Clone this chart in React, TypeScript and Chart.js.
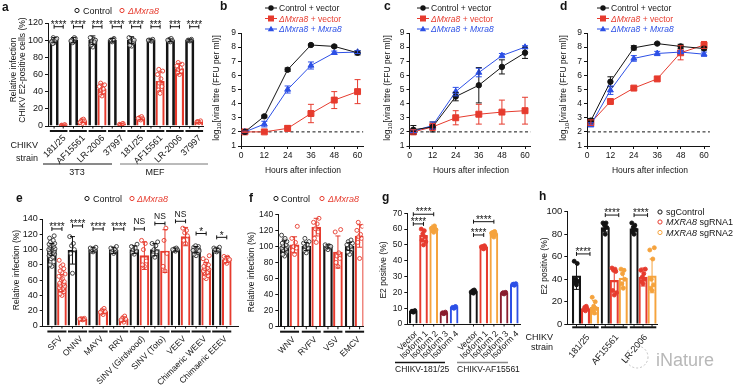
import React, { useEffect, useRef } from "react";
import { Chart, registerables } from "chart.js";

Chart.register(...registerables);

const FONT = '"Liberation Sans", Arial, Helvetica, sans-serif';
const INK = "#141414";
const RED = "#e63b2e";
const ORANGE = "#f5a33d";
const MAROON = "#8a1d2e";
const BLUE = "#2d50e6";

// ---------------- panel a ----------------
const aStrains = ["181/25", "AF15561", "LR-2006", "37997", "181/25", "AF15561", "LR-2006", "37997"];
const aCells = ["3T3", "MEF"];
const aCtrlMean = [100, 100, 100, 100, 100, 100, 100, 100];
const aCtrlSd = [3, 3, 5, 2, 4, 1, 1.5, 1];
const aKoMean = [1, 6, 43, 2, 9, 52, 67, 5];
const aKoSd = [0.5, 2, 6, 1, 1.5, 11, 6, 1];
const aSig = ["****", "****", "***", "****", "****", "***", "***", "****"];
const aCtrlPts = [
  [97, 99, 101, 103, 100, 98, 102, 96],
  [98, 100, 102, 97, 103, 99],
  [92, 94, 97, 99, 101, 103, 100, 95, 98],
  [98, 100, 102, 99, 101],
  [93, 94, 97, 99, 101, 103, 100],
  [99, 100, 101, 100, 99, 100],
  [98, 99, 100, 101, 102, 100],
  [99, 100, 101, 100, 100],
];
const aKoPts = [
  [0.5, 1, 1.5, 0.8, 1.2],
  [3, 5, 6, 7, 8, 4],
  [35, 37, 40, 42, 44, 46, 48, 50, 43],
  [1, 2, 3, 1.5, 2.5],
  [7, 8, 9, 10, 11, 9],
  [38, 42, 46, 50, 55, 60, 64, 66],
  [60, 62, 64, 66, 68, 70, 72, 74],
  [4, 5, 6, 5],
];

// ---------------- panels b, c, d ----------------
const hours = [2, 12, 24, 36, 48, 60];
const hourTicks = [0, 12, 24, 36, 48, 60];
const titreTicks = [1, 2, 3, 4, 5, 6, 7, 8, 9];
const detectionLimit = 2;
const bCtrl = [2.0, 3.1, 6.4, 8.15, 8.05, 7.6];
const bCtrlErr = [0.05, 0.08, 0.12, 0.05, 0.08, 0.15];
const bKoVec = [2.0, 2.0, 2.25, 3.3, 4.25, 4.85];
const bKoVecErr = [0.05, 0.05, 0.2, 0.65, 0.6, 0.85];
const bKoMx = [2.0, 2.55, 5.0, 6.7, 7.6, 7.65];
const bKoMxErr = [0.05, 0.2, 0.25, 0.25, 0.12, 0.1];
const cCtrl = [2.15, 2.35, 4.5, 5.3, 6.6, 7.6];
const cCtrlErr = [0.3, 0.35, 0.3, 1.25, 0.5, 0.4];
const cKoVec = [2.0, 2.35, 3.0, 3.25, 3.4, 3.5];
const cKoVecErr = [0.15, 0.25, 0.5, 0.7, 0.85, 0.95];
const cKoMx = [2.05, 2.45, 4.85, 6.2, 7.4, 8.0];
const cKoMxErr = [0.1, 0.25, 0.3, 0.3, 0.15, 0.1];
const dCtrl = [2.8, 5.55, 7.95, 8.25, 8.05, 7.9];
const dCtrlErr = [0.15, 0.35, 0.15, 0.05, 0.15, 0.1];
const dKoVec = [2.65, 4.15, 5.1, 5.75, 7.6, 8.15];
const dKoVecErr = [0.2, 0.1, 0.05, 0.15, 0.5, 0.25];
const dKoMx = [2.5, 4.95, 7.2, 7.55, 7.65, 7.5];
const dKoMxErr = [0.15, 0.3, 0.2, 0.15, 0.1, 0.15];

// ---------------- panel e ----------------
const eViruses = ["SFV", "ONNV", "MAYV", "RRV", "SINV (Girdwood)", "SINV (Toto)", "VEEV", "Chimaeric WEEV", "Chimaeric EEEV"];
const eCtrlMean = [100, 99, 100, 99, 100, 100, 100, 100, 100];
const eCtrlSd = [8, 18, 3, 4, 5, 8, 2, 4, 2];
const eKoMean = [56, 9, 19, 9, 92, 98, 117, 75, 87];
const eKoSd = [11, 1.5, 3, 3, 18, 28, 12, 8, 4];
const eSig = ["****", "****", "****", "****", "NS", "NS", "NS", "*", "*"];
const eSigY = [127, 131, 127, 127, 127, 134, 137, 121, 116];
const eCtrlPts = [
  [78, 80, 84, 88, 90, 92, 94, 95, 96, 97, 98, 99, 100, 100, 101, 102, 103, 104, 105, 106, 107, 108, 110, 112, 115, 118],
  [69, 95, 100, 105, 108, 117],
  [97, 98, 99, 100, 101, 102, 103],
  [95, 97, 99, 100, 101, 102, 104],
  [94, 96, 98, 100, 102, 104, 107],
  [90, 93, 97, 100, 105, 108, 110],
  [98, 99, 100, 101, 102, 100],
  [92, 94, 96, 97, 98, 99, 100, 101, 102, 103, 104, 105, 100, 99, 98],
  [97, 98, 99, 100, 101, 102, 103, 100, 99],
];
const eKoPts = [
  [40, 42, 45, 47, 49, 50, 52, 53, 55, 56, 58, 60, 62, 65, 68, 70, 72, 75, 78, 80, 86],
  [8, 9, 10, 9.5, 8.5, 9],
  [15, 17, 19, 21, 23, 18],
  [5, 7, 9, 11, 13, 8],
  [78, 80, 85, 100, 108, 112],
  [72, 78, 95, 112, 128],
  [108, 112, 118, 122, 125, 128],
  [62, 64, 66, 68, 70, 72, 74, 75, 76, 78, 80, 82, 85, 88, 92],
  [82, 84, 86, 88, 90, 91, 87, 85],
];

// ---------------- panel f ----------------
const fViruses = ["WNV", "RVFV", "VSV", "EMCV"];
const fCtrlMean = [100, 100, 100, 100];
const fCtrlSd = [7, 5, 2, 5];
const fKoMean = [102, 124, 93, 113];
const fKoSd = [10, 11, 20, 14];
const fCtrlPts = [
  [88, 90, 93, 95, 97, 98, 100, 101, 102, 104, 106, 108, 110, 114],
  [92, 95, 98, 100, 102, 104, 106, 110],
  [96, 98, 99, 100, 101, 102, 100],
  [90, 93, 96, 98, 100, 102, 104, 106, 108],
];
const fKoPts = [
  [90, 95, 98, 100, 105, 110, 125],
  [105, 110, 118, 122, 128, 130, 135],
  [75, 80, 85, 88, 92, 118, 121],
  [85, 105, 110, 112, 115, 120, 125, 130],
];
const pctTicks = [0, 20, 40, 60, 80, 100, 120, 140];

// ---------------- panel g ----------------
const gIsoforms = ["Vector", "Isoform 1", "Isoform 2", "Isoform 3", "Isoform 4"];
const gStrains = ["CHIKV-181/25", "CHIKV-AF15561"];
const gColors = [INK, RED, ORANGE, MAROON, BLUE];
const gMean = [
  [8, 56, 60.5, 7, 10.5],
  [20.5, 48.5, 57, 19.5, 25],
];
const gSd = [
  [0.5, 3.5, 2, 0.5, 0.5],
  [0.8, 0.8, 1.5, 0.8, 0.8],
];
const gPts = [
  [[7.5, 8, 8.5, 8, 7.8], [50, 53, 55, 57, 59, 60, 52], [58, 59, 60, 61, 62, 60.5, 59.5], [6.5, 7, 7.5, 7], [10, 10.5, 11, 10.2, 10.8]],
  [[19.5, 20, 20.5, 21, 21.5, 20.2], [47.5, 48, 48.5, 49, 49.5, 48.8], [55, 56, 57, 58, 58.5, 57.5], [19, 19.5, 20, 19.8], [24.5, 25, 25.5, 25.2]],
];
const gSigTo = [1, 2];
const gSigY = [
  [63.3, 69.4],
  [56.3, 64.7],
];
const gTicks = [0, 10, 20, 30, 40, 50, 60, 70];

// ---------------- panel h ----------------
const hStrains = ["181/25", "AF15561", "LR-2006"];
const hGuides = ["sgControl", "MXRA8 sgRNA1", "MXRA8 sgRNA2"];
const hColors = [INK, RED, ORANGE];
const hMean = [
  [43, 86, 85],
  [14, 39, 42],
  [15, 41, 43],
];
const hSd = [
  [12, 4, 2],
  [2, 10, 8],
  [6, 8, 15],
];
const hPts = [
  [[35, 37, 38, 40, 54, 56], [80, 84, 86, 88, 90, 90], [80, 82, 84, 86, 88, 90]],
  [[12, 13, 14, 15, 16], [26, 30, 47, 48, 49, 50, 28], [36, 38, 40, 42, 45, 48, 49]],
  [[10, 12, 14, 16, 20, 24], [32, 36, 40, 45, 48, 49], [30, 32, 35, 40, 58, 66, 68]],
];
const hSig = ["****", "****", "****"];
const hSigY = [62.5, 97, 97];
const hTicks = [0, 20, 40, 60, 80, 100];

// ================= helpers =================
type Box = { left: number; top: number; w: number; h: number };
type Area = { x0: number; x1: number; y0: number; y1: number };
type Seg = { t: string; i?: boolean; sub?: boolean; b?: boolean };

function fnt(size: number, bold = false, italic = false) {
  return `${italic ? "italic " : ""}${bold ? "bold " : ""}${size}px ${FONT}`;
}

function rich(ctx: any, segs: Seg[], x: number, y: number, size: number, color: string, align = "left", rot = 0) {
  ctx.save();
  ctx.translate(x, y);
  if (rot) ctx.rotate(rot);
  ctx.fillStyle = color;
  ctx.textBaseline = "alphabetic";
  ctx.textAlign = "left";
  const f = (s: Seg) => fnt(s.sub ? size * 0.72 : size, !!s.b, !!s.i);
  const ws = segs.map((s) => {
    ctx.font = f(s);
    return ctx.measureText(s.t).width;
  });
  const tot = ws.reduce((a, b) => a + b, 0);
  let cx = align === "left" ? 0 : align === "center" ? -tot / 2 : -tot;
  segs.forEach((s, k) => {
    ctx.font = f(s);
    ctx.fillText(s.t, cx, s.sub ? size * 0.3 : 0);
    cx += ws[k];
  });
  ctx.restore();
}

function text(ctx: any, s: string, x: number, y: number, size: number, o: any = {}) {
  rich(ctx, [{ t: s, i: o.italic, b: o.bold }], x, y, size, o.color || INK, o.align || "left", o.rot || 0);
}

function seg(ctx: any, x1: number, y1: number, x2: number, y2: number, color: string, w: number) {
  ctx.save();
  ctx.strokeStyle = color;
  ctx.lineWidth = w;
  ctx.beginPath();
  ctx.moveTo(x1, y1);
  ctx.lineTo(x2, y2);
  ctx.stroke();
  ctx.restore();
}

function openCircle(ctx: any, x: number, y: number, color: string, fill = false) {
  ctx.save();
  ctx.strokeStyle = color;
  ctx.fillStyle = color;
  ctx.lineWidth = 1;
  ctx.beginPath();
  ctx.arc(x, y, 2.1, 0, Math.PI * 2);
  if (fill) ctx.fill();
  ctx.stroke();
  ctx.restore();
}

function marker(ctx: any, style: string, x: number, y: number, color: string) {
  ctx.save();
  ctx.fillStyle = color;
  if (style === "circle") {
    ctx.beginPath();
    ctx.arc(x, y, 2.7, 0, Math.PI * 2);
    ctx.fill();
  } else if (style === "rect") {
    ctx.fillRect(x - 3, y - 3, 6, 6);
  } else {
    ctx.beginPath();
    ctx.moveTo(x, y - 3.2);
    ctx.lineTo(x + 3.2, y + 2.3);
    ctx.lineTo(x - 3.2, y + 2.3);
    ctx.closePath();
    ctx.fill();
  }
  ctx.restore();
}

function bracket(ctx: any, xa: number, xb: number, y: number, label: string) {
  ctx.save();
  ctx.strokeStyle = INK;
  ctx.lineWidth = 1;
  ctx.beginPath();
  ctx.moveTo(xa, y);
  ctx.lineTo(xb, y);
  ctx.moveTo(xa, y - 2);
  ctx.lineTo(xa, y + 2);
  ctx.moveTo(xb, y - 2);
  ctx.lineTo(xb, y + 2);
  ctx.stroke();
  ctx.restore();
  const stars = label.indexOf("*") >= 0;
  text(ctx, label, (xa + xb) / 2, stars ? y + 1.2 : y - 4.5, stars ? 10 : 8.5, { align: "center" });
}

function barTicks(ctx: any, X: (v: number) => number, xs: number[], y1: number) {
  xs.forEach((x) => seg(ctx, X(x), y1, X(x), y1 + 2.5, INK, 1));
}

function groupLines(ctx: any, X: (v: number) => number, groups: number[][], half: number, y: number) {
  groups.forEach((g) => seg(ctx, X(g[0]) - half, y, X(g[1]) + half, y, INK, 2));
}

const errorPlugin = {
  id: "errs",
  afterDatasetsDraw(chart: any) {
    const ctx = chart.ctx;
    chart.data.datasets.forEach((d: any) => {
      if (!d.errors) return;
      d.data.forEach((p: any, i: number) => {
        const e = d.errors[i];
        if (!e) return;
        const x = chart.scales.x.getPixelForValue(p.x);
        const yT = chart.scales.y.getPixelForValue(p.y + e);
        const yB = chart.scales.y.getPixelForValue(p.y - e);
        const c = d.cap || 2.5;
        ctx.save();
        ctx.strokeStyle = d.errColor;
        ctx.lineWidth = 1;
        ctx.beginPath();
        ctx.moveTo(x, yT);
        ctx.lineTo(x, yB);
        ctx.moveTo(x - c, yT);
        ctx.lineTo(x + c, yT);
        ctx.moveTo(x - c, yB);
        ctx.lineTo(x + c, yB);
        ctx.stroke();
        ctx.restore();
      });
    });
  },
};

function yScale(box: Box, area: Area, min: number, max: number, vals: number[], size = 8.5) {
  return {
    type: "linear",
    min,
    max,
    bounds: "data",
    position: "left",
    afterBuildTicks: (s: any) => {
      s.ticks = vals.map((v) => ({ value: v }));
    },
    afterFit: (s: any) => {
      s.width = area.x0 - box.left;
      s.paddingTop = 0;
      s.paddingBottom = 0;
    },
    grid: { display: true, drawOnChartArea: false, drawTicks: true, tickLength: 3, color: INK, lineWidth: 1 },
    border: { display: true, color: INK, width: 1 },
    ticks: { font: { family: FONT, size }, color: INK, padding: 2, autoSkip: false },
  };
}

function xScale(box: Box, area: Area, min: number, max: number, vals: number[], labels: string[] | null, rot: number, pad: number, drawTicks: boolean, size = 8.5) {
  return {
    type: "linear",
    min,
    max,
    bounds: "data",
    offset: false,
    position: "bottom",
    afterBuildTicks: (s: any) => {
      s.ticks = vals.map((v) => ({ value: v }));
    },
    afterFit: (s: any) => {
      s.height = box.top + box.h - area.y1;
      s.paddingLeft = 0;
      s.paddingRight = 0;
    },
    grid: { display: true, drawOnChartArea: false, drawTicks, tickLength: 3, color: INK, lineWidth: 1, offset: false },
    border: { display: true, color: INK, width: 1 },
    ticks: {
      font: { family: FONT, size },
      color: INK,
      padding: pad,
      autoSkip: false,
      minRotation: rot,
      maxRotation: rot,
      callback: (v: any, i: number) => (labels ? labels[i] : String(v)),
    },
  };
}

function makeConfig(type: string, box: Box, area: Area, datasets: any[], xs: any, ys: any, decor: (ctx: any, X: (v: number) => number, Y: (v: number) => number) => void) {
  return {
    type,
    data: { datasets },
    options: {
      animation: false,
      responsive: false,
      events: [],
      layout: {
        padding: { top: area.y0 - box.top, right: box.left + box.w - area.x1, bottom: 0, left: 0 },
        autoPadding: false,
      },
      plugins: { legend: { display: false }, tooltip: { enabled: false } },
      scales: { x: xs, y: ys },
    },
    plugins: [
      errorPlugin,
      {
        id: "decor",
        afterDraw(chart: any) {
          const ctx = chart.ctx;
          const X = (v: number) => chart.scales.x.getPixelForValue(v) + box.left;
          const Y = (v: number) => chart.scales.y.getPixelForValue(v) + box.top;
          ctx.save();
          ctx.translate(-box.left, -box.top);
          decor(ctx, X, Y);
          ctx.restore();
        },
      },
    ],
  };
}

const JIT = [0, -0.6, 0.6, -0.3, 0.3, -0.9, 0.9, -0.45, 0.45, -0.75, 0.75, -0.15, 0.15, -1, 1];

function barSeries(xs: number[], means: number[], sds: number[], pts: number[][], o: any) {
  return [
    {
      type: "scatter",
      order: 1,
      data: pts.flatMap((arr, i) => arr.map((v, k) => ({ x: xs[i] + JIT[k % JIT.length] * o.jw, y: v }))),
      pointRadius: o.r || 2,
      pointBackgroundColor: o.ptFill,
      pointBorderColor: o.ptStroke,
      pointBorderWidth: 0.9,
      showLine: false,
    },
    {
      type: "bar",
      order: 2,
      data: xs.map((x, i) => ({ x, y: means[i] })),
      backgroundColor: "rgba(255,255,255,0)",
      borderColor: o.bar,
      borderWidth: o.bw,
      barThickness: o.thick,
      grouped: false,
      errors: sds,
      errColor: o.err,
      cap: o.cap || 2.5,
    },
  ];
}

function lineSeries(vals: number[], errs: number[], color: string, style: string, radius: number, order: number) {
  return {
    type: "line",
    order,
    data: hours.map((h, i) => ({ x: h, y: vals[i] })),
    borderColor: color,
    backgroundColor: color,
    borderWidth: 1,
    pointStyle: style,
    pointRadius: radius,
    pointBackgroundColor: color,
    pointBorderColor: color,
    pointBorderWidth: 1,
    tension: 0,
    errors: errs,
    errColor: color,
    cap: 3,
  };
}

const legendLine: Seg[][] = [
  [{ t: "Control + vector" }],
  [{ t: "Δ", i: true }, { t: "Mxra8", i: true }, { t: " + vector" }],
  [{ t: "Δ", i: true }, { t: "Mxra8", i: true }, { t: " + " }, { t: "Mxra8", i: true }],
];
const legendColors = [INK, RED, BLUE];
const legendMarkers = ["circle", "rect", "triangle"];
const titreTitle: Seg[] = [{ t: "log" }, { t: "10", sub: true }, { t: "[viral titre (FFU per ml)]" }];

// ================= panels =================
const boxA: Box = { left: 0, top: 0, w: 212, h: 180 };
const areaA: Area = { x0: 48, x1: 203, y0: 23, y1: 126 };
function buildA() {
  const off = 0.235;
  const cx = aStrains.map((_, i) => i - off);
  const kx = aStrains.map((_, i) => i + off);
  const ds = [
    ...barSeries(cx, aCtrlMean, aCtrlSd, aCtrlPts, { bar: INK, bw: 2, err: INK, ptStroke: "#333", ptFill: "rgba(255,255,255,0.7)", thick: 8.5, jw: 0.15 }),
    ...barSeries(kx, aKoMean, aKoSd, aKoPts, { bar: RED, bw: 1.5, err: RED, ptStroke: RED, ptFill: "rgba(255,255,255,0.7)", thick: 8.5, jw: 0.15 }),
  ];
  return makeConfig(
    "bar",
    boxA,
    areaA,
    ds,
    xScale(boxA, areaA, -0.55, 7.45, aStrains.map((_, i) => i + 0.3), aStrains, 45, 7, false, 9),
    yScale(boxA, areaA, 0, 120, [0, 20, 40, 60, 80, 100, 120], 9),
    (ctx, X, Y) => {
      text(ctx, "a", 2, 11, 12, { bold: true });
      openCircle(ctx, 77, 10.5, INK);
      text(ctx, "Control", 83, 14, 9);
      openCircle(ctx, 122, 10.5, RED);
      rich(ctx, [{ t: "Δ", i: true }, { t: "Mxra8", i: true }], 128, 14, 9, RED);
      text(ctx, "Relative infection", 16, 70, 8.5, { align: "center", rot: -Math.PI / 2 });
      text(ctx, "CHIKV E2-positive cells (%)", 25, 70, 8.5, { align: "center", rot: -Math.PI / 2 });
      barTicks(ctx, X, [...cx, ...kx], areaA.y1);
      groupLines(ctx, X, aStrains.map((_, i) => [i - off, i + off]), 4.25, areaA.y1 + 5);
      aSig.forEach((s, i) => bracket(ctx, X(i - off), X(i + off), Y(115.7), s));
      text(ctx, "CHIKV", 38, 148, 9, { align: "right" });
      text(ctx, "strain", 38, 161, 9, { align: "right" });
      seg(ctx, 43, 164, 112, 164, INK, 1);
      text(ctx, aCells[0], 77, 175, 9, { align: "center" });
      seg(ctx, 120, 164, 208, 164, "#777", 1);
      text(ctx, aCells[1], 155, 175, 9, { align: "center" });
    }
  );
}

function buildLine(box: Box, area: Area, letter: string, letterX: number, ctrl: number[], ctrlE: number[], kv: number[], kvE: number[], km: number[], kmE: number[], legX: number, yTitleX: number, xTitleX: number) {
  const ds = [
    lineSeries(ctrl, ctrlE, INK, "circle", 2.7, 1),
    lineSeries(km, kmE, BLUE, "triangle", 3.4, 2),
    lineSeries(kv, kvE, RED, "rect", 4.2, 3),
    {
      type: "line",
      order: 5,
      data: [
        { x: 0, y: detectionLimit },
        { x: 63, y: detectionLimit },
      ],
      borderColor: INK,
      borderWidth: 1,
      borderDash: [3, 2.5],
      pointRadius: 0,
    },
  ];
  return makeConfig(
    "line",
    box,
    area,
    ds,
    xScale(box, area, 0, 63, hourTicks, null, 0, 2, true, 8.5),
    yScale(box, area, 1, 9, titreTicks, 8.5),
    (ctx) => {
      text(ctx, letter, letterX, 10, 12, { bold: true });
      [8, 18.5, 29].forEach((y, k) => {
        seg(ctx, legX, y, legX + 12, y, legendColors[k], 1);
        marker(ctx, legendMarkers[k], legX + 6, y, legendColors[k]);
        rich(ctx, legendLine[k], legX + 14, y + 3, 8.5, legendColors[k]);
      });
      rich(ctx, titreTitle, yTitleX, 88, 8.5, INK, "center", -Math.PI / 2);
      text(ctx, "Hours after infection", xTitleX, 173, 8.5, { align: "center" });
    }
  );
}

const boxB: Box = { left: 205, top: 0, w: 165, h: 180 };
const areaB: Area = { x0: 241, x1: 363.4, y0: 33, y1: 146 };
const boxC: Box = { left: 372, top: 0, w: 165, h: 180 };
const areaC: Area = { x0: 409.5, x1: 530.8, y0: 33, y1: 146 };
const boxD: Box = { left: 540, top: 0, w: 200, h: 180 };
const areaD: Area = { x0: 587, x1: 709.9, y0: 33, y1: 146 };
const buildB = () => buildLine(boxB, areaB, "b", 220, bCtrl, bCtrlErr, bKoVec, bKoVecErr, bKoMx, bKoMxErr, 265, 218.5, 303);
const buildC = () => buildLine(boxC, areaC, "c", 384, cCtrl, cCtrlErr, cKoVec, cKoVecErr, cKoMx, cKoMxErr, 417, 389.5, 471);
const buildD = () => buildLine(boxD, areaD, "d", 560, dCtrl, dCtrlErr, dKoVec, dKoVecErr, dKoMx, dKoMxErr, 597, 566, 650);

const boxE: Box = { left: 0, top: 180, w: 245, h: 209 };
const areaE: Area = { x0: 42.7, x1: 238, y0: 219, y1: 326 };
function buildE() {
  const off = 0.245;
  const cx = eViruses.map((_, i) => i - off);
  const kx = eViruses.map((_, i) => i + off);
  const ds = [
    ...barSeries(cx, eCtrlMean, eCtrlSd, eCtrlPts, { bar: INK, bw: 1.6, err: INK, ptStroke: "#333", ptFill: "rgba(255,255,255,0.7)", thick: 9, jw: 0.15 }),
    ...barSeries(kx, eKoMean, eKoSd, eKoPts, { bar: RED, bw: 1.4, err: RED, ptStroke: RED, ptFill: "rgba(255,255,255,0.7)", thick: 9, jw: 0.15 }),
  ];
  return makeConfig(
    "bar",
    boxE,
    areaE,
    ds,
    xScale(boxE, areaE, -0.69, 8.79, eViruses.map((_, i) => i + 0.2), eViruses, 45, 8, false),
    yScale(boxE, areaE, 0, 140, pctTicks, 9),
    (ctx, X, Y) => {
      text(ctx, "e", 16, 202, 12, { bold: true });
      openCircle(ctx, 87, 198.5, INK);
      text(ctx, "Control", 93, 202, 9);
      openCircle(ctx, 132, 198.5, RED);
      rich(ctx, [{ t: "Δ", i: true }, { t: "Mxra8", i: true }], 137, 202, 9, RED);
      text(ctx, "Relative infection (%)", 18.5, 270, 8.5, { align: "center", rot: -Math.PI / 2 });
      barTicks(ctx, X, [...cx, ...kx], areaE.y1);
      groupLines(ctx, X, eViruses.map((_, i) => [i - off, i + off]), 4.5, areaE.y1 + 5.5);
      eSig.forEach((s, i) => bracket(ctx, X(i - off), X(i + off), Y(eSigY[i]), s));
    }
  );
}

const boxF: Box = { left: 245, top: 180, w: 130, h: 209 };
const areaF: Area = { x0: 278.3, x1: 363.3, y0: 214.3, y1: 326.7 };
function buildF() {
  const off = 0.23;
  const cx = fViruses.map((_, i) => i - off);
  const kx = fViruses.map((_, i) => i + off);
  const ds = [
    ...barSeries(cx, fCtrlMean, fCtrlSd, fCtrlPts, { bar: INK, bw: 1.6, err: INK, ptStroke: "#333", ptFill: "rgba(255,255,255,0.7)", thick: 9, jw: 0.14 }),
    ...barSeries(kx, fKoMean, fKoSd, fKoPts, { bar: RED, bw: 1.4, err: RED, ptStroke: RED, ptFill: "rgba(255,255,255,0.7)", thick: 9, jw: 0.14 }),
  ];
  return makeConfig(
    "bar",
    boxF,
    areaF,
    ds,
    xScale(boxF, areaF, -0.52, 3.4, fViruses.map((_, i) => i + 0.2), fViruses, 45, 8, false),
    yScale(boxF, areaF, 0, 140, pctTicks, 8.5),
    (ctx, X) => {
      text(ctx, "f", 249, 202, 12, { bold: true });
      openCircle(ctx, 276, 198.5, INK);
      text(ctx, "Control", 281, 202, 9);
      openCircle(ctx, 322, 198.5, RED);
      rich(ctx, [{ t: "Δ", i: true }, { t: "Mxra8", i: true }], 328, 202, 9, RED);
      text(ctx, "Relative infection (%)", 254, 272, 8.5, { align: "center", rot: -Math.PI / 2 });
      barTicks(ctx, X, [...cx, ...kx], areaF.y1);
      groupLines(ctx, X, fViruses.map((_, i) => [i - off, i + off]), 4.5, areaF.y1 + 5);
    }
  );
}

const boxG: Box = { left: 375, top: 180, w: 160, h: 209 };
const areaG: Area = { x0: 407.3, x1: 520, y0: 213.3, y1: 324 };
function buildG() {
  const start = [0, 5.9];
  const ds: any[] = [];
  gIsoforms.forEach((_, k) => {
    const xs = start.map((s) => s + k);
    ds.push(
      ...barSeries(
        xs,
        gMean.map((m) => m[k]),
        gSd.map((m) => m[k]),
        gPts.map((p) => p[k]),
        { bar: gColors[k], bw: 1.4, err: gColors[k], ptStroke: gColors[k], ptFill: gColors[k], thick: 8, jw: 0.25 }
      )
    );
  });
  const allX = start.flatMap((s) => gIsoforms.map((_, k) => s + k));
  const labels = start.flatMap(() => gIsoforms);
  return makeConfig(
    "bar",
    boxG,
    areaG,
    ds,
    xScale(boxG, areaG, -0.59, 10.46, allX.map((x) => x + 0.3), labels, 45, 5, false, 8.5),
    yScale(boxG, areaG, 0, 70, gTicks, 8.5),
    (ctx, X, Y) => {
      text(ctx, "g", 382, 201, 12, { bold: true });
      text(ctx, "E2 positive (%)", 386, 270, 8.5, { align: "center", rot: -Math.PI / 2 });
      barTicks(ctx, X, allX, areaG.y1);
      start.forEach((s, gi) => {
        gSigTo.forEach((to, j) => bracket(ctx, X(s), X(s + to), Y(gSigY[gi][j]), "****"));
      });
      seg(ctx, 395, 362.5, 445, 362.5, INK, 1.3);
      text(ctx, gStrains[0], 395, 371.5, 8.5);
      seg(ctx, 457, 362.5, 508, 362.5, "#888", 1.3);
      text(ctx, gStrains[1], 457, 371.5, 8.5);
    }
  );
}

const boxH: Box = { left: 520, top: 180, w: 220, h: 209 };
const areaH: Area = { x0: 567.3, x1: 657, y0: 211.7, y1: 324.3 };
function buildH() {
  const gs = 3.2;
  const ds: any[] = [];
  hGuides.forEach((_, k) => {
    const xs = hStrains.map((_, g) => g * gs + k);
    ds.push(...barSeries(xs, hMean[k], hSd[k], hPts[k], { bar: hColors[k], bw: 1.5, err: hColors[k], ptStroke: hColors[k], ptFill: hColors[k], thick: 8.5, jw: 0.28 }));
  });
  const allX = hStrains.flatMap((_, g) => hGuides.map((_, k) => g * gs + k));
  return makeConfig(
    "bar",
    boxH,
    areaH,
    ds,
    xScale(boxH, areaH, -1.02, 8.95, hStrains.map((_, g) => g * gs + 1.3), hStrains, 50, 8, false, 9),
    yScale(boxH, areaH, 0, 100, hTicks, 9.5),
    (ctx, X, Y) => {
      text(ctx, "h", 539, 200, 12, { bold: true });
      text(ctx, "E2 positive (%)", 546.5, 266, 8.5, { align: "center", rot: -Math.PI / 2 });
      barTicks(ctx, X, allX, areaH.y1);
      groupLines(ctx, X, hStrains.map((_, g) => [g * gs, g * gs + 2]), 4.25, areaH.y1 + 3);
      hSig.forEach((s, g) => bracket(ctx, X(g * gs), X(g * gs + 1.5), Y(hSigY[g]), s));
      text(ctx, "CHIKV", 553, 340, 9, { align: "right" });
      text(ctx, "strain", 553, 350, 9, { align: "right" });
      [212, 222, 232.5].forEach((y, k) => {
        openCircle(ctx, 660, y, hColors[k]);
        const segs: Seg[] = k === 0 ? [{ t: hGuides[0] }] : [{ t: "MXRA8", i: true }, { t: hGuides[k].replace("MXRA8", "") }];
        rich(ctx, segs, 666, y + 3, 9, INK);
      });
      ctx.save();
      ctx.strokeStyle = "rgba(150,150,150,0.55)";
      ctx.lineWidth = 1;
      ctx.setLineDash([2, 2]);
      ctx.beginPath();
      ctx.arc(637, 357, 11, 0, Math.PI * 2);
      ctx.stroke();
      ctx.restore();
      text(ctx, "iNature", 656, 366, 18, { color: "rgba(160,160,160,0.75)" });
    }
  );
}

function Panel({ box, build }: { box: Box; build: () => any }) {
  const ref = useRef<HTMLCanvasElement>(null);
  useEffect(() => {
    const chart = new Chart(ref.current as HTMLCanvasElement, build());
    return () => chart.destroy();
  }, []);
  return (
    <canvas
      ref={ref}
      width={box.w}
      height={box.h}
      style={{ position: "absolute", left: box.left, top: box.top, width: box.w, height: box.h, display: "block" }}
    />
  );
}

export default function App() {
  return (
    <div style={{ position: "absolute", left: 0, top: 0, width: 740, height: 389, background: "#fff", overflow: "hidden" }}>
      <Panel box={boxA} build={buildA} />
      <Panel box={boxB} build={buildB} />
      <Panel box={boxC} build={buildC} />
      <Panel box={boxD} build={buildD} />
      <Panel box={boxE} build={buildE} />
      <Panel box={boxF} build={buildF} />
      <Panel box={boxG} build={buildG} />
      <Panel box={boxH} build={buildH} />
    </div>
  );
}
